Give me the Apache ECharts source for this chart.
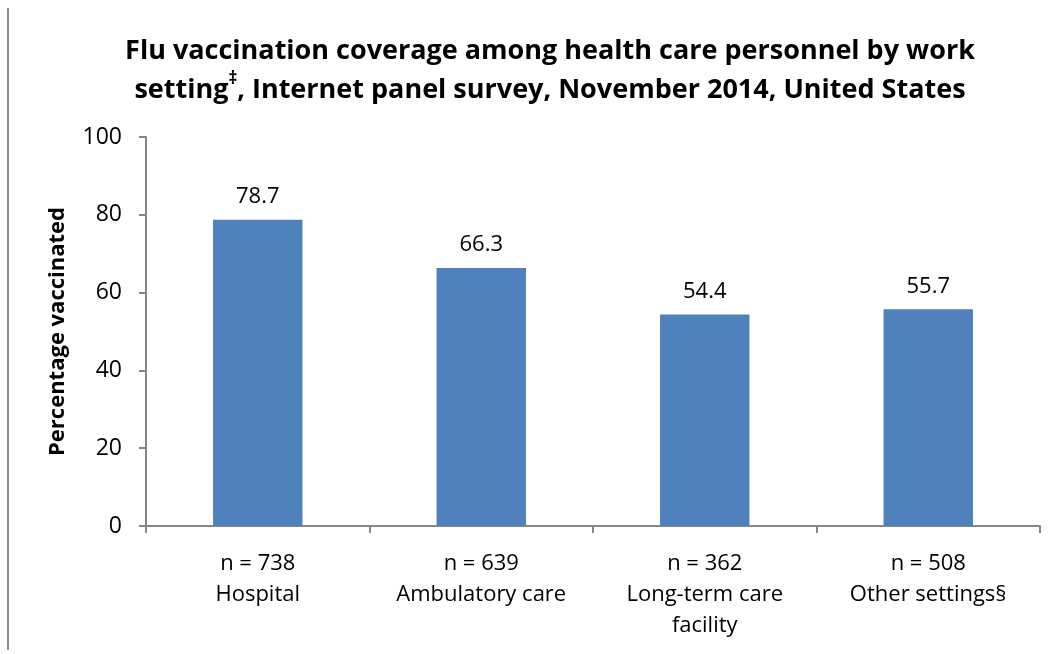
<!DOCTYPE html>
<html>
<head>
<meta charset="utf-8">
<script src="https://cdn.jsdelivr.net/npm/echarts@6/dist/echarts.min.js"></script>
<style>
  html, body { margin: 0; padding: 0; background: #fff; }
  #chart { width: 1053px; height: 654px; }
</style>
</head>
<body>
<div id="chart"></div>
<script>
// Work settings with their sample sizes, and percent vaccinated
const sampleSizes = [738, 639, 362, 508];
const settings = ['Hospital', 'Ambulatory care', 'Long-term care\nfacility', 'Other settings§'];
const coverage = [78.7, 66.3, 54.4, 55.7];
const yTicks = [0, 20, 40, 60, 80, 100];

const categories = settings.map((s, i) => 'n = ' + sampleSizes[i] + '\n' + s);
const FONT = '"Open Sans", "Liberation Sans", sans-serif';
const AXIS = '#868686';

const chart = echarts.init(document.getElementById('chart'));
chart.setOption({
  animation: false,
  backgroundColor: '#ffffff',
  title: {
    text: 'Flu vaccination coverage among health care personnel by work\nsetting{sup|\u2021}, Internet panel survey, November 2014, United States',
    left: 545,
    top: 27,
    textAlign: 'center',
    textStyle: {
      fontFamily: FONT,
      fontWeight: 'bold',
      fontSize: 27,
      lineHeight: 39,
      color: '#000',
      rich: {
        sup: {
          fontFamily: FONT,
          fontWeight: 'bold',
          fontSize: 17,
          lineHeight: 39,
          verticalAlign: 'top',
          padding: [0, 0, 10, 0],
          color: '#000'
        }
      }
    }
  },
  grid: { left: 146, right: 13, top: 137, bottom: 128, containLabel: false },
  xAxis: {
    type: 'category',
    data: categories,
    axisLine: { lineStyle: { color: AXIS, width: 2 } },
    axisTick: { show: true, length: 7, alignWithLabel: false, lineStyle: { color: AXIS, width: 2 } },
    axisLabel: {
      interval: 0,
      margin: 22,
      fontFamily: FONT,
      fontSize: 22,
      lineHeight: 31,
      color: '#000'
    }
  },
  yAxis: {
    type: 'value',
    min: yTicks[0],
    max: yTicks[yTicks.length - 1],
    interval: 20,
    name: 'Percentage vaccinated',
    nameLocation: 'middle',
    nameGap: 77,
    nameRotate: 90,
    nameTextStyle: { fontFamily: FONT, fontWeight: 'bold', fontSize: 22, color: '#000' },
    axisLine: { show: true, lineStyle: { color: AXIS, width: 2 } },
    axisTick: { show: true, length: 7, lineStyle: { color: AXIS, width: 2 } },
    splitLine: { show: false },
    axisLabel: { margin: 24, fontFamily: FONT, fontSize: 23, color: '#000' }
  },
  series: [{
    type: 'bar',
    data: coverage,
    barWidth: '40%',
    itemStyle: { color: '#4F81BD' },
    label: {
      show: true,
      position: 'top',
      distance: 12,
      fontFamily: FONT,
      fontSize: 22,
      color: '#000',
      formatter: p => p.value.toFixed(1)
    }
  }],
  graphic: [{
    type: 'line',
    shape: { x1: 8, y1: 8, x2: 8, y2: 650 },
    style: { stroke: '#8c8c8c', lineWidth: 2 }
  }]
});
</script>
</body>
</html>
